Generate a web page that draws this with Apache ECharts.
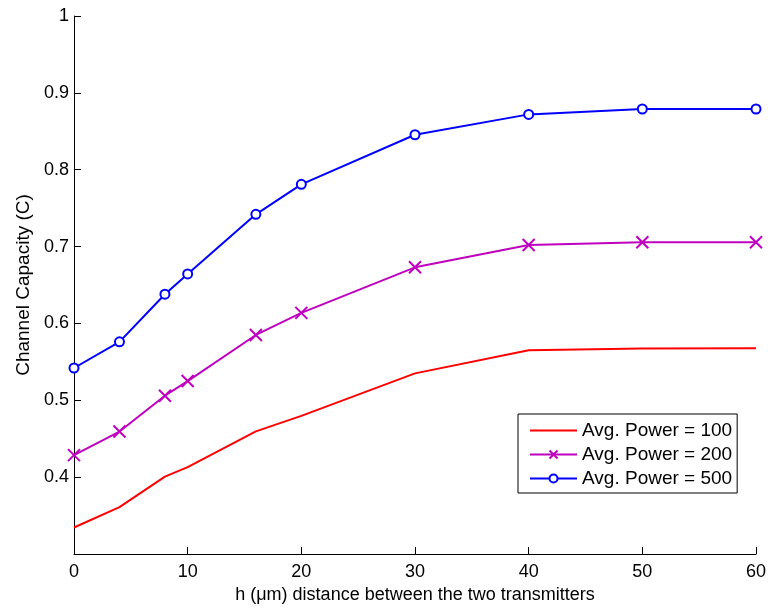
<!DOCTYPE html>
<html>
<head>
<meta charset="utf-8">
<script src="https://cdn.jsdelivr.net/npm/echarts@6/dist/echarts.min.js"></script>
<style>html,body{margin:0;padding:0;background:#fff}#c{width:771px;height:610px}</style>
</head>
<body>
<div id="c"></div>
<script>
const hValues = [0, 4, 8, 10, 16, 20, 30, 40, 50, 60];
const power100 = [0.3345, 0.361, 0.4007, 0.413, 0.4596, 0.4797, 0.535, 0.5652, 0.5675, 0.5677];
const power200 = [0.4286, 0.4593, 0.506, 0.525, 0.585, 0.6137, 0.673, 0.702, 0.7056, 0.7056];
const power500 = [0.542, 0.576, 0.638, 0.6644, 0.742, 0.781, 0.8455, 0.872, 0.879, 0.879];
const seriesNames = ['Avg. Power = 100', 'Avg. Power = 200', 'Avg. Power = 500'];
const xTitle = 'h (\u03bcm) distance between the two transmitters';
const yTitle = 'Channel Capacity (C)';

const FONT = '"Liberation Sans", Arial, Helvetica, sans-serif';
const pairs = ys => hValues.map((h, i) => [h, ys[i]]);

const chart = echarts.init(document.getElementById('c'), null, {renderer: 'canvas'});
chart.setOption({
  animation: false,
  backgroundColor: '#fff',
  textStyle: {fontFamily: FONT},
  grid: {left: 74, right: 15, top: 16, bottom: 56, containLabel: false},
  xAxis: {
    type: 'value', min: 0, max: 60, interval: 10,
    name: xTitle, nameLocation: 'middle', nameGap: 27,
    nameTextStyle: {fontSize: 18, color: '#000', fontFamily: FONT},
    axisLine: {show: true, lineStyle: {color: '#000', width: 1}},
    axisTick: {show: true, inside: true, length: 7, lineStyle: {color: '#000'}},
    axisLabel: {fontSize: 18, color: '#000', margin: 9, fontFamily: FONT},
    splitLine: {show: false}
  },
  yAxis: {
    type: 'value', min: 0.3, max: 1, interval: 0.1,
    name: yTitle, nameLocation: 'middle', nameGap: 40, nameRotate: 90,
    nameTextStyle: {fontSize: 19, color: '#000', fontFamily: FONT},
    axisLine: {show: true, lineStyle: {color: '#000', width: 1}},
    axisTick: {show: true, inside: true, length: 7, lineStyle: {color: '#000'}},
    axisLabel: {fontSize: 18, color: '#000', margin: 5, fontFamily: FONT,
      formatter: v => Math.abs(v - 0.3) < 1e-6 ? '' : String(Math.round(v * 10) / 10)},
    splitLine: {show: false}
  },
  legend: {
    orient: 'vertical', left: 518, top: 414,
    itemWidth: 47, itemHeight: 10, itemGap: 5,
    padding: [7, 5, 5, 11],
    borderColor: '#000', borderWidth: 1, backgroundColor: '#fff',
    textStyle: {fontSize: 19, color: '#000', fontFamily: FONT},
    data: [
      {name: seriesNames[0], itemStyle: {opacity: 0}},
      {name: seriesNames[1]},
      {name: seriesNames[2]}
    ]
  },
  series: [
    {
      name: seriesNames[0], type: 'line', data: pairs(power100),
      symbol: 'none', showSymbol: false,
      lineStyle: {color: '#ff0000', width: 2}, itemStyle: {color: '#ff0000'}
    },
    {
      name: seriesNames[1], type: 'line', data: pairs(power200),
      symbol: 'path://M0,0L10,10M10,0L0,10', symbolSize: 12, showSymbol: true,
      lineStyle: {color: '#bf00bf', width: 2},
      itemStyle: {color: '#bf00bf', borderColor: '#bf00bf', borderWidth: 2}
    },
    {
      name: seriesNames[2], type: 'line', data: pairs(power500),
      symbol: 'emptyCircle', symbolSize: 9, showSymbol: true,
      lineStyle: {color: '#0000ff', width: 2},
      itemStyle: {color: '#0000ff', borderColor: '#0000ff', borderWidth: 2}
    }
  ]
});
</script>
</body>
</html>
